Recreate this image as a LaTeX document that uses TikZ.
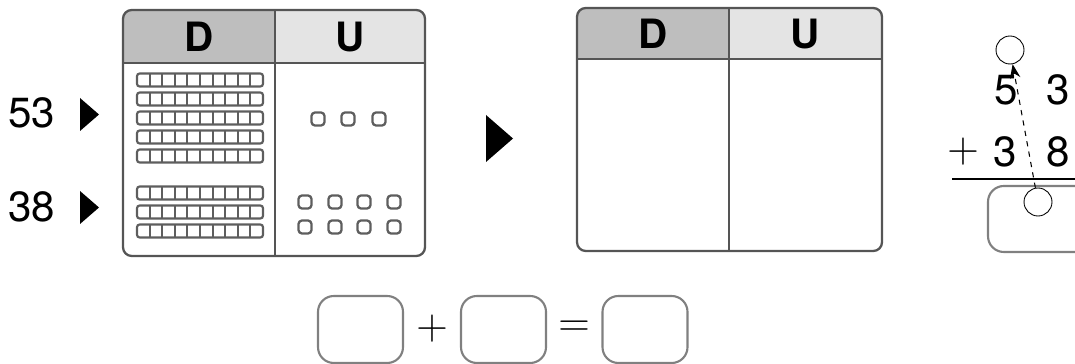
\documentclass[tikz,border=0pt]{standalone}
\usepackage{fontspec}
\setmainfont{TeX Gyre Heros}
\usetikzlibrary{arrows.meta}

\definecolor{framegray}{HTML}{555555}
\definecolor{rodgray}{HTML}{5E5E5E}
\definecolor{boxgray}{HTML}{808080}
\definecolor{headD}{HTML}{BEBEBE}
\definecolor{headU}{HTML}{E4E4E4}

\begin{document}
\begin{tikzpicture}[x=0.02cm,y=-0.02cm,
    frame/.style={draw=framegray,line width=1.3pt,rounded corners=5pt},
    rod/.style={draw=rodgray,line width=1.2pt,rounded corners=1.5pt},
    cube/.style={draw=rodgray,line width=1.3pt,rounded corners=2pt},
    ansbox/.style={draw=boxgray,line width=1.2pt,rounded corners=9pt,
        minimum width=1.7cm,minimum height=1.34cm},
    ring/.style={draw,circle,minimum size=0.56cm,inner sep=0pt,line width=0.5pt},
    big/.style={font=\fontsize{24}{27}\selectfont},
    head/.style={font=\bfseries\fontsize{23}{26}\selectfont}]
    \useasboundingbox (0,0) rectangle (1075,364);
    \clip (0,0) rectangle (1075,364);

    % numbers on the left
    \node[big] (nA) at (32,113) {53};
    \node[big] (nB) at (32,207) {38};
    \fill (80,98) -- (80,131) -- (99,114.5) -- cycle;
    \fill (80,191) -- (80,224) -- (99,207.5) -- cycle;

    % first table
    \begin{scope}
        \clip[rounded corners=5pt] (123,10) rectangle (425,256);
        \fill[headD] (123,10) rectangle (275,63);
        \fill[headU] (275,10) rectangle (425,63);
    \end{scope}
    \draw[frame] (123,10) rectangle (425,256);
    \draw[framegray,line width=1.3pt] (123,63) -- (425,63);
    \draw[framegray,line width=1.3pt] (275,10) -- (275,256);
    \node[head] (dA) at (199,37) {D};
    \node[head] (uA) at (350,37) {U};

    % tens
    \foreach \y in {80,99,118,137,156,193,212,231} {
        \draw[rod] (137,\y-6.5) rectangle (263,\y+6.5);
        \foreach \i in {1,...,9}
            \draw[rodgray,line width=1.2pt] (137+\i*12.6,\y-6.5) -- ++(0,13);
    }

    % units
    \foreach \x in {318,348,379}
        \draw[cube] (\x-6.5,112.5) rectangle (\x+6.5,125.5);
    \foreach \x in {305,335,364,394}
        \foreach \y in {202,227}
            \draw[cube] (\x-6.5,\y-6.5) rectangle (\x+6.5,\y+6.5);

    % middle arrow
    \fill (486,115) -- (486,162) -- (513,138.5) -- cycle;

    % second table
    \begin{scope}
        \clip[rounded corners=5pt] (577,8) rectangle (882,251);
        \fill[headD] (577,8) rectangle (729,59);
        \fill[headU] (729,8) rectangle (882,59);
    \end{scope}
    \draw[frame] (577,8) rectangle (882,251);
    \draw[framegray,line width=1.3pt] (577,59) -- (882,59);
    \draw[framegray,line width=1.3pt] (729,8) -- (729,251);
    \node[head] (dB) at (653,34) {D};
    \node[head] (uB) at (805,34) {U};

    % column sum
    \node[ring] (carryTop) at (1010,50) {};
    \node[big] (tA) at (1006,90) {5};
    \node[big] (oA) at (1058,90) {3};
    \node[big] (plusV) at (963,152) {$+$};
    \node[big] (tB) at (1005,152) {3};
    \node[big] (oB) at (1058,152) {8};
    \draw[line width=0.6pt] (952,179) -- (1080,179);
    \draw[boxgray,line width=1.2pt,rounded corners=9pt] (988,186) rectangle (1110,252);
    \node[ring,fill=white] (carryBot) at (1038,202) {};
    \draw[dashed,line width=0.6pt,-{Stealth[length=8pt,width=6pt]}] (carryBot) -- (carryTop);

    % equation
    \node[ansbox] (bA) at (360.5,329.5) {};
    \node[big] (plus) at (432,329) {$+$};
    \node[ansbox] (bB) at (503.5,329.5) {};
    \node[big] (eq) at (574,329) {$=$};
    \node[ansbox] (bC) at (645,329.5) {};
\end{tikzpicture}
\end{document}
